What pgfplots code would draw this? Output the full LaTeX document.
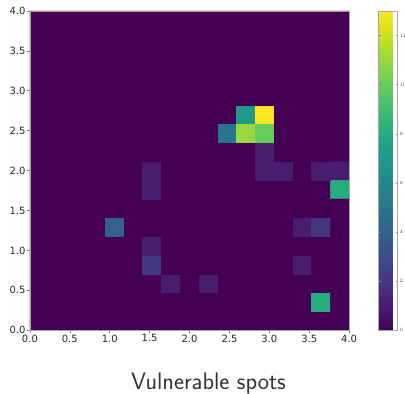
\documentclass[border=0pt]{standalone}
\usepackage{pgfplots}
\pgfplotsset{compat=1.18}
\usepackage{fontspec}
\newfontfamily\dejavu{DejaVu Sans}
\definecolor{vir0}{HTML}{440154}
\begin{document}
\begin{tikzpicture}
\begin{axis}[
  width=320pt, height=320pt, scale only axis,
  xmin=0, xmax=4, ymin=0, ymax=4,
  xtick={0,0.5,1,1.5,2,2.5,3,3.5,4},
  ytick={0,0.5,1,1.5,2,2.5,3,3.5,4},
  /pgf/number format/assume math mode=true,
  /pgf/number format/.cd, fixed, fixed zerofill, precision=1, /pgfplots/.cd,
  ticklabel style={font=\dejavu\fontsize{10}{11}\selectfont, text=black!85},
  tick align=outside, tick pos=left,
  major tick length=3pt,
  every tick/.style={gray, line width=0.6pt},
  axis line style={gray!70, line width=0.6pt},
  xticklabel style={yshift=2pt},
  yticklabel style={xshift=2pt},
  axis background/.style={fill=vir0},
  colormap/viridis,
  point meta min=0, point meta max=13,
  colorbar,
  colorbar style={
    at={(parent axis.north east)}, anchor=north west, xshift=21pt,
    width=19pt,
    ytick={0,2,4,6,8,10,12},
    yticklabel style={font=\dejavu\fontsize{4.5}{5}\selectfont, text=black!70, xshift=-1.5pt,
      /pgf/number format/precision=0, /pgf/number format/fixed zerofill=false},
    major tick length=2pt,
    axis line style={gray!70},
    every tick/.style={gray},
  },
  xlabel={Vulnerable spots},
  xlabel style={font=\sffamily\fontsize{24}{26}\selectfont, text=black!80, yshift=-24pt, xshift=19pt},
  axis on top,
  x filter/.expression={(x+0.5)*4/17},
  y filter/.expression={(y+0.5)*4/17},
]
\addplot[matrix plot*, mesh/cols=17, point meta=explicit, draw=mapped color, line width=0.3pt] coordinates {
(0,0)[0] (1,0)[0] (2,0)[0] (3,0)[0] (4,0)[0] (5,0)[0] (6,0)[0] (7,0)[0] (8,0)[0] (9,0)[0] (10,0)[0] (11,0)[0] (12,0)[0] (13,0)[0] (14,0)[0] (15,0)[0] (16,0)[0]
(0,1)[0] (1,1)[0] (2,1)[0] (3,1)[0] (4,1)[0] (5,1)[0] (6,1)[0] (7,1)[0] (8,1)[0] (9,1)[0] (10,1)[0] (11,1)[0] (12,1)[0] (13,1)[0] (14,1)[0] (15,1)[8] (16,1)[0]
(0,2)[0] (1,2)[0] (2,2)[0] (3,2)[0] (4,2)[0] (5,2)[0] (6,2)[0] (7,2)[1] (8,2)[0] (9,2)[1] (10,2)[0] (11,2)[0] (12,2)[0] (13,2)[0] (14,2)[0] (15,2)[0] (16,2)[0]
(0,3)[0] (1,3)[0] (2,3)[0] (3,3)[0] (4,3)[0] (5,3)[0] (6,3)[2] (7,3)[0] (8,3)[0] (9,3)[0] (10,3)[0] (11,3)[0] (12,3)[0] (13,3)[0] (14,3)[1] (15,3)[0] (16,3)[0]
(0,4)[0] (1,4)[0] (2,4)[0] (3,4)[0] (4,4)[0] (5,4)[0] (6,4)[1] (7,4)[0] (8,4)[0] (9,4)[0] (10,4)[0] (11,4)[0] (12,4)[0] (13,4)[0] (14,4)[0] (15,4)[0] (16,4)[0]
(0,5)[0] (1,5)[0] (2,5)[0] (3,5)[0] (4,5)[4] (5,5)[0] (6,5)[0] (7,5)[0] (8,5)[0] (9,5)[0] (10,5)[0] (11,5)[0] (12,5)[0] (13,5)[0] (14,5)[1] (15,5)[2] (16,5)[0]
(0,6)[0] (1,6)[0] (2,6)[0] (3,6)[0] (4,6)[0] (5,6)[0] (6,6)[0] (7,6)[0] (8,6)[0] (9,6)[0] (10,6)[0] (11,6)[0] (12,6)[0] (13,6)[0] (14,6)[0] (15,6)[0] (16,6)[0]
(0,7)[0] (1,7)[0] (2,7)[0] (3,7)[0] (4,7)[0] (5,7)[0] (6,7)[1] (7,7)[0] (8,7)[0] (9,7)[0] (10,7)[0] (11,7)[0] (12,7)[0] (13,7)[0] (14,7)[0] (15,7)[0] (16,7)[8]
(0,8)[0] (1,8)[0] (2,8)[0] (3,8)[0] (4,8)[0] (5,8)[0] (6,8)[1] (7,8)[0] (8,8)[0] (9,8)[0] (10,8)[0] (11,8)[0] (12,8)[1] (13,8)[1] (14,8)[0] (15,8)[1] (16,8)[1]
(0,9)[0] (1,9)[0] (2,9)[0] (3,9)[0] (4,9)[0] (5,9)[0] (6,9)[0] (7,9)[0] (8,9)[0] (9,9)[0] (10,9)[0] (11,9)[0] (12,9)[1] (13,9)[0] (14,9)[0] (15,9)[0] (16,9)[0]
(0,10)[0] (1,10)[0] (2,10)[0] (3,10)[0] (4,10)[0] (5,10)[0] (6,10)[0] (7,10)[0] (8,10)[0] (9,10)[0] (10,10)[5] (11,10)[11] (12,10)[10] (13,10)[0] (14,10)[0] (15,10)[0] (16,10)[0]
(0,11)[0] (1,11)[0] (2,11)[0] (3,11)[0] (4,11)[0] (5,11)[0] (6,11)[0] (7,11)[0] (8,11)[0] (9,11)[0] (10,11)[0] (11,11)[7] (12,11)[13] (13,11)[0] (14,11)[0] (15,11)[0] (16,11)[0]
(0,12)[0] (1,12)[0] (2,12)[0] (3,12)[0] (4,12)[0] (5,12)[0] (6,12)[0] (7,12)[0] (8,12)[0] (9,12)[0] (10,12)[0] (11,12)[0] (12,12)[0] (13,12)[0] (14,12)[0] (15,12)[0] (16,12)[0]
(0,13)[0] (1,13)[0] (2,13)[0] (3,13)[0] (4,13)[0] (5,13)[0] (6,13)[0] (7,13)[0] (8,13)[0] (9,13)[0] (10,13)[0] (11,13)[0] (12,13)[0] (13,13)[0] (14,13)[0] (15,13)[0] (16,13)[0]
(0,14)[0] (1,14)[0] (2,14)[0] (3,14)[0] (4,14)[0] (5,14)[0] (6,14)[0] (7,14)[0] (8,14)[0] (9,14)[0] (10,14)[0] (11,14)[0] (12,14)[0] (13,14)[0] (14,14)[0] (15,14)[0] (16,14)[0]
(0,15)[0] (1,15)[0] (2,15)[0] (3,15)[0] (4,15)[0] (5,15)[0] (6,15)[0] (7,15)[0] (8,15)[0] (9,15)[0] (10,15)[0] (11,15)[0] (12,15)[0] (13,15)[0] (14,15)[0] (15,15)[0] (16,15)[0]
(0,16)[0] (1,16)[0] (2,16)[0] (3,16)[0] (4,16)[0] (5,16)[0] (6,16)[0] (7,16)[0] (8,16)[0] (9,16)[0] (10,16)[0] (11,16)[0] (12,16)[0] (13,16)[0] (14,16)[0] (15,16)[0] (16,16)[0]
};
\end{axis}
\pgfresetboundingbox
\path[use as bounding box] ([shift={(-30pt,-63pt)}]current axis.south west) rectangle ([shift={(56pt,11pt)}]current axis.north east);
\end{tikzpicture}
\end{document}
